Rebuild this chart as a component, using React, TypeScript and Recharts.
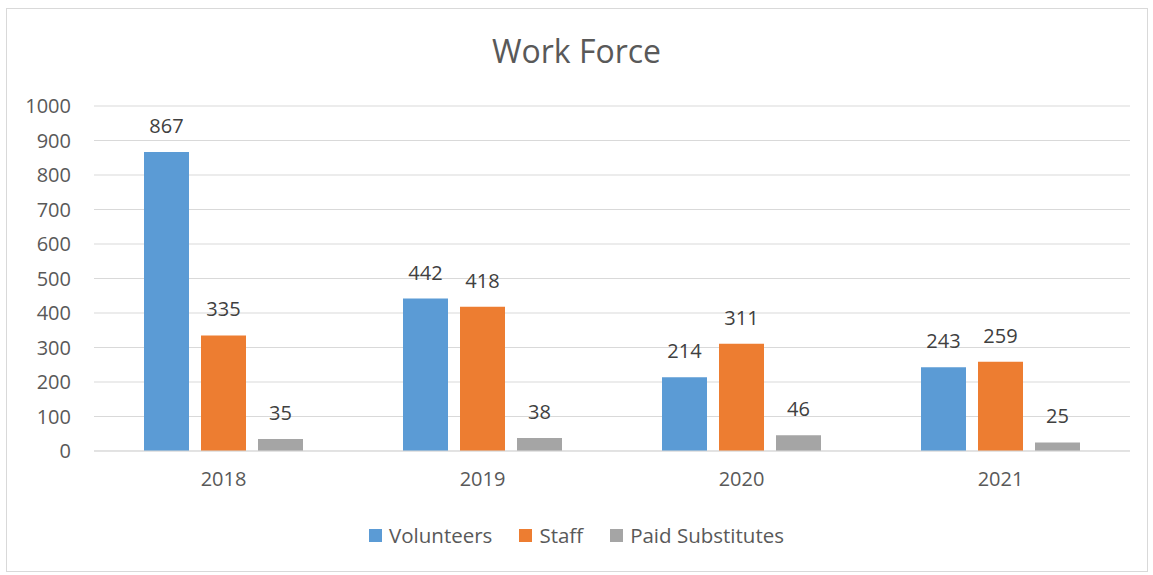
import { BarChart, Bar, XAxis, YAxis, CartesianGrid, Legend, LabelList } from 'recharts';

const years = ['2018', '2019', '2020', '2021'];
const volunteers = [867, 442, 214, 243];
const staff = [335, 418, 311, 259];
const paidSubstitutes = [35, 38, 46, 25];
const yTicks = [0, 100, 200, 300, 400, 500, 600, 700, 800, 900, 1000];

const SERIES = [
  { key: 'volunteers', name: 'Volunteers', color: '#5B9BD5' },
  { key: 'staff', name: 'Staff', color: '#ED7D31' },
  { key: 'paid', name: 'Paid Substitutes', color: '#A5A5A5' },
];

const data = years.map((year, i) => ({
  year,
  volunteers: volunteers[i],
  staff: staff[i],
  paid: paidSubstitutes[i],
}));

const FONT = '"Open Sans", "Liberation Sans", sans-serif';

const LegendContent = () => (
  <div style={{ display: 'flex', justifyContent: 'center', alignItems: 'center', fontFamily: FONT, fontSize: 20.5, color: '#595959' }}>
    {SERIES.map((s, i) => (
      <div key={s.key} style={{ display: 'flex', alignItems: 'center', marginLeft: i === 0 ? 0 : 27 }}>
        <span style={{ width: 13, height: 13, background: s.color, display: 'inline-block', marginRight: 7 }} />
        <span>{s.name}</span>
      </div>
    ))}
  </div>
);

const App = () => {
  return (
    <div style={{ position: 'absolute', left: 0, top: 0, width: 1153, height: 575, background: '#fff' }}>
      <div style={{ position: 'absolute', left: 6, top: 8, width: 1140, height: 562, border: '1px solid #d9d9d9' }} />
      <div style={{ position: 'absolute', left: 0, top: 29, width: 1153, textAlign: 'center', fontFamily: FONT, fontSize: 32, color: '#595959' }}>
        Work Force
      </div>
      <div style={{ position: 'absolute', left: 0, top: 0 }}>
        <BarChart
          width={1153}
          height={575}
          data={data}
          margin={{ top: 106, right: 23, bottom: 0, left: 0 }}
          barCategoryGap={50}
          barGap={12}
        >
          <CartesianGrid vertical={false} stroke="#d9d9d9" strokeWidth={1} />
          <XAxis
            dataKey="year"
            height={124}
            axisLine={{ stroke: '#d9d9d9' }}
            tickLine={false}
            tickSize={0}
            tickMargin={21}
            tick={{ fill: '#595959', fontSize: 20, fontFamily: FONT }}
          />
          <YAxis
            width={94}
            domain={[0, 1000]}
            ticks={yTicks}
            axisLine={false}
            tickLine={false}
            tickSize={0}
            tickMargin={23}
            tick={{ fill: '#595959', fontSize: 20, fontFamily: FONT }}
          />
          <Legend
            verticalAlign="middle"
            align="center"
            content={<LegendContent />}
            wrapperStyle={{ top: 521, left: 0, width: 1153 }}
          />
          {SERIES.map((s) => (
            <Bar key={s.key} dataKey={s.key} name={s.name} fill={s.color} isAnimationActive={false}>
              <LabelList
                dataKey={s.key}
                position="top"
                offset={19}
                fill="#404040"
                fontSize={20}
                fontFamily={FONT}
              />
            </Bar>
          ))}
        </BarChart>
      </div>
    </div>
  );
};

export default App;
